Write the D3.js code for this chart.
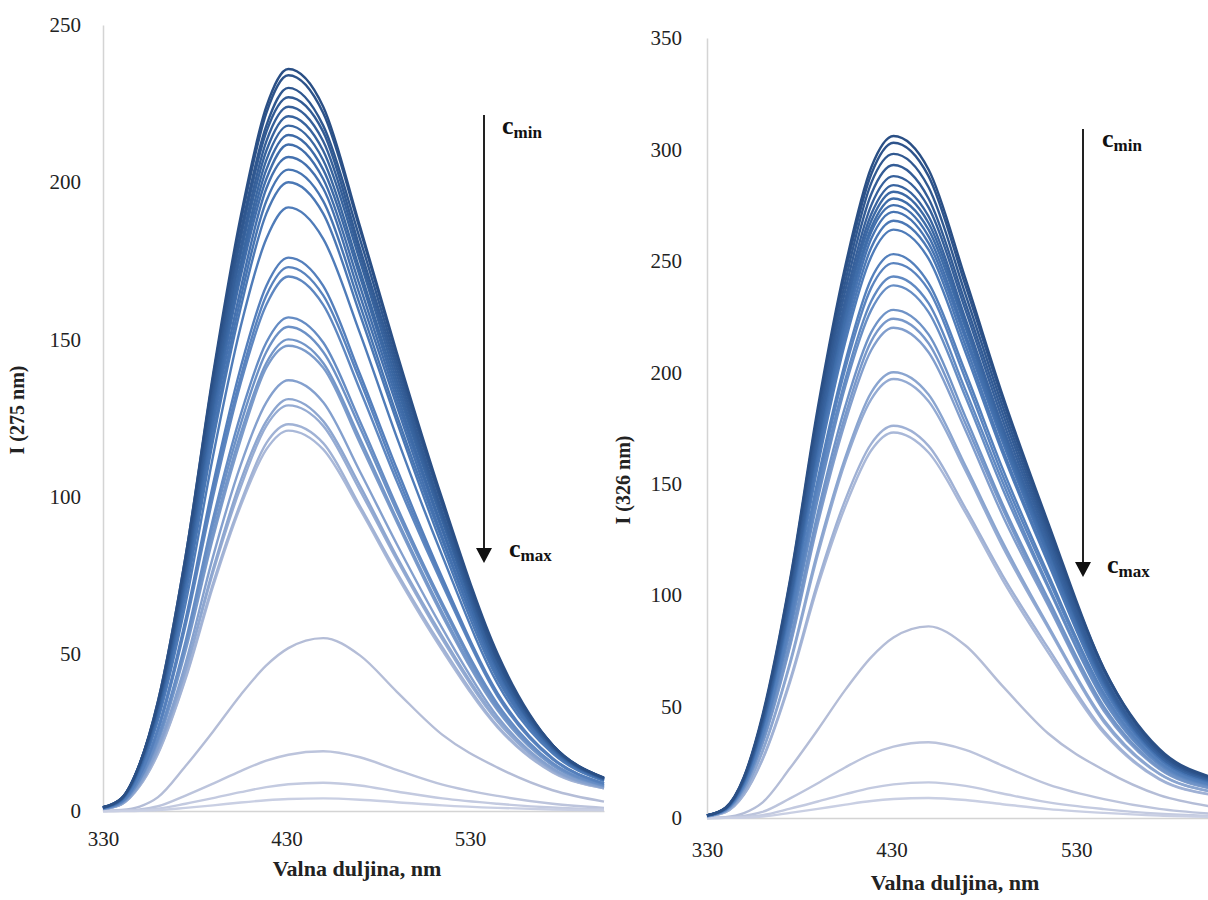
<!DOCTYPE html>
<html><head><meta charset="utf-8">
<script src="https://cdn.jsdelivr.net/npm/d3@7"></script>
<style>body{margin:0;background:#fff}svg{display:block}</style>
</head><body>
<script>
// wavelengths (nm) at which the spectra were read
const wavelengths = [330,340,350,360,375,390,405,419,431,450,470,490,515,545,575,603];
const xTicks = [330,430,530];
const leftYTicks = [0,50,100,150,200,250];
const rightYTicks = [0,50,100,150,200,250,300,350];

// Left panel, excitation 275 nm (darkest = c_min ... lightest = c_max)
const left275 = [
[1.2,4,15,35,81,139,189,224,236,224,186,146,99,50,21,10.6],
[1.2,4,15,35,81,138,187,222,234,222,185,145,98,49,21,10.5],
[1.2,3.9,15,34,79,136,184,218,230,218,182,143,97,48,21,10.5],
[1.1,3.9,15,34,78,134,182,216,227,216,179,141,95,48,20.5,10.4],
[1.1,3.8,14.6,34,77,132,179,213,224,213,177,139,94,47,20.5,10.3],
[1.1,3.8,14.4,33,76,130,177,210,221,210,175,137,93,46,20.3,10.3],
[1.1,3.7,14.2,33,75,129,174,207,218,207,172,135,92,46,20,10.2],
[1.1,3.7,14,32,74,127,172,204,215,204,170,133,90,45,20,10.1],
[1.1,3.6,13.8,32,73,125,170,201,212,201,167,131,89,45,19.8,10],
[1.0,3.5,13.5,31,72,123,166,198,208,198,164,129,87,44,19.5,10],
[1.0,3.5,13.3,31,70,120,163,194,204,194,161,126,86,43,19.2,9.9],
[1.0,3.4,13,30,69,118,160,190,200,190,158,124,84,42,19,9.8],
[1.0,3.3,12.5,29,66,113,154,182,192,182,152,119,81,40.5,18.3,9.5],
[0.9,3.0,11.4,26.4,61,104,141,167,176,167,139,109,74,37.5,16.8,8.8],
[0.9,2.9,11.2,26,60,102,138,164,173,164,137,107,73,37,16.6,8.7],
[0.9,2.9,11,25.5,59,100,136,161,170,161,134,105,72,36.5,16.4,8.6],
[0.8,2.7,10.2,23.6,54,93,126,149,157,149,124,97,66,34,15.3,8.2],
[0.8,2.6,10,23,53,91,123,146,154,146,122,95.5,65,33,15,8.1],
[0.8,2.6,9.8,22.5,52,88.5,120,142.5,150,142.5,118.5,93,63,32.5,14.7,8],
[0.8,2.5,9.6,22,51,87,118,141,148,141,117,92,62,32,14.5,7.9],
[0.7,2.3,8.9,20.5,47,81,110,130,137,130,108,85,58,30,13.6,7.6],
[0.7,2.2,8.5,19.7,45,77,105,124,131,124,103.5,81,55.5,29,13.2,7.4],
[0.7,2.2,8.4,19.4,44.5,76,103,122.5,129,122.5,102,80,54.5,28.5,13,7.4],
[0.6,2.1,8,18.5,42.5,72.5,98,117,123,117,97,76,52,27,12.5,7.2],
[0.6,2.1,7.9,18.2,42,71.5,97,115,121,115,96,75,51,26.6,12.3,7.2]
];
const left275Low = [
[0,0.3,1.4,4.4,14.3,25.3,36.9,46.3,51.8,55,49.5,38,24.2,13.8,6.6,3],
[0,0.1,0.5,1.5,4.9,8.7,12.7,16,17.9,19,17.1,13.1,8.4,4.8,2.3,1.0],
[0,0.05,0.2,0.7,2.3,4.1,6.0,7.6,8.5,9,8.1,6.2,4.0,2.3,1.1,0.5],
[0,0,0.1,0.3,1.0,1.8,2.7,3.4,3.8,4,3.6,2.8,1.8,1.0,0.5,0.2]
];

// Right panel, excitation 326 nm
const right326 = [
[1.2,4.6,18.4,46,107,184,248,292,306,291,242,190,132,67,31,18.4],
[1.2,4.5,18.2,45,106,182,245,289,303,288,239,188,130,67,30,18.2],
[1.2,4.5,17.9,45,104,179,241,285,298,283,235,185,128,66,30,17.9],
[1.2,4.4,17.6,44,103,176,237,280,293,278,231,182,126,64,29,17.6],
[1.2,4.3,17.3,43,101,173,233,275,288,274,228,179,124,63,29,17.3],
[1.1,4.3,17,43,99,170,230,271,284,270,224,176,122,62,28,17],
[1.1,4.2,16.9,42,98,169,228,268,281,267,222,174,121,62,28,16.9],
[1.1,4.2,16.7,42,97,167,225,265,278,264,220,172,120,61,28,16.7],
[1.1,4.1,16.5,41,96,165,223,263,275,261,217,171,118,60.5,27.5,16.5],
[1.1,4.1,16.3,41,95,163,220,260,272,258,215,169,117,60,27,16.3],
[1.1,4.0,16.1,40,94,161,217,256,268,255,212,166,115,59,27,16.1],
[1.1,4.0,15.8,40,92,158,214,252,264,251,209,164,114,58,26.4,15.8],
[1.0,3.8,15.2,38,89,152,205,242,253,240,200,157,109,56,25.3,15.2],
[1.0,3.7,14.9,37,87,149,202,238,249,237,197,154,107,55,24.9,14.9],
[1.0,3.6,14.6,36,85,146,197,232,243,231,192,151,104,53.5,24.3,14.6],
[1.0,3.6,14.3,36,84,143,194,228,239,227,189,148,103,52.6,23.9,14.3],
[0.9,3.4,13.7,34,80,137,185,218,228,217,180,141,98,50,22.8,13.7],
[0.9,3.4,13.4,34,78,134,181,214,224,213,177,139,96,49,22.4,13.4],
[0.9,3.3,13.2,33,77,132,178,210,220,209,174,136,95,48,22,13.2],
[0.8,3.0,12,30,70,120,162,191,200,190,158,124,86,44,20,12],
[0.8,3.0,11.8,29.6,69,118,160,188,197,187,156,122,85,43,19.7,11.8],
[0.7,2.6,10.6,26.4,62,106,143,168,176,167,139,109,76,39,17.6,10.6],
[0.7,2.6,10.4,26,61,104,140,165,173,164,137,107,74,38,17.3,10.4]
];
const right326Low = [
[0,0.4,2.2,6.9,22.4,39.6,57.6,72.2,81,86,77.4,59.3,37.8,21.5,10.3,5.2],
[0,0.2,0.9,2.7,8.8,15.6,22.8,28.6,32,34,30.6,23.5,15,8.5,4.1,1.9],
[0,0.1,0.4,1.3,4.2,7.4,10.7,13.5,15.1,16,14.4,11,7,4,1.9,0.9],
[0,0.05,0.2,0.7,2.3,4.1,6.0,7.6,8.5,9,8.1,6.2,4.0,2.3,1.1,0.5]
];

const svg = d3.select("body").append("svg").attr("width",1208).attr("height",900);
const serif = "'Liberation Serif','Times New Roman',serif";

function panel(cfg){
  const x = d3.scaleLinear().domain([330,603]).range(cfg.xr);
  const y = d3.scaleLinear().domain([0,cfg.yMax]).range(cfg.yr);
  const g = svg.append("g");
  const ya = g.append("g").attr("transform",`translate(${cfg.xr[0]},0)`)
    .call(d3.axisLeft(y).tickValues(cfg.yTicks).tickSize(0).tickSizeOuter(0).tickPadding(cfg.yPad));
  const xa = g.append("g").attr("transform",`translate(0,${cfg.yr[0]})`)
    .call(d3.axisBottom(x).tickValues(xTicks).tickSize(0).tickSizeOuter(0).tickPadding(cfg.xPad));
  [ya,xa].forEach(a=>{
    a.select(".domain").attr("stroke","#d4d4d4").attr("stroke-width",1.5);
    a.selectAll("text").attr("font-family",serif).attr("font-size",21).attr("fill","#222");
  });
  const line = d3.line().x((d,i)=>x(wavelengths[i])).y(d=>y(d)).curve(d3.curveMonotoneX);
  const lowCols = ["#b4bdd7","#bcc4dc","#c3cae0","#c9cfe3"];
  g.selectAll(".low").data(cfg.low).join("path")
    .attr("fill","none").attr("stroke",(d,i)=>lowCols[i]).attr("stroke-width",2.4)
    .attr("d",line);
  const n = cfg.series.length;
  const col = d3.interpolateRgbBasis(["#2a4f85","#3f6fae","#5d88c4","#a9b8d8"]);
  const ordered = cfg.series.map((s,i)=>({s,i})).reverse();
  g.selectAll(".up").data(ordered).join("path")
    .attr("fill","none").attr("stroke",d=>col(d.i/(n-1))).attr("stroke-width",2.4)
    .attr("d",d=>line(d.s));
  g.append("text").attr("x",cfg.xt[0]).attr("y",cfg.xt[1]).attr("text-anchor","middle")
    .attr("font-family",serif).attr("font-weight","bold").attr("font-size",22).attr("fill","#222")
    .text("Valna duljina, nm");
  g.append("text").attr("transform",`translate(${cfg.yt[0]},${cfg.yt[1]}) rotate(-90)`).attr("text-anchor","middle")
    .attr("font-family",serif).attr("font-weight","bold").attr("font-size",20).attr("fill","#222")
    .text(cfg.ytitle);
  const a = cfg.arrow;
  g.append("line").attr("x1",a.x).attr("x2",a.x).attr("y1",a.y1).attr("y2",a.y2-12)
    .attr("stroke","#222").attr("stroke-width",2);
  g.append("path").attr("d",`M${a.x-8},${a.y2-15}L${a.x+8},${a.y2-15}L${a.x},${a.y2}Z`).attr("fill","#111");
  const lab = (px,py,sub)=>{
    const t = g.append("text").attr("x",px).attr("y",py).attr("font-family",serif)
      .attr("font-weight","bold").attr("font-size",26).attr("fill","#111").text("c");
    t.append("tspan").attr("dy",4).attr("font-size",17).text(sub);
  };
  lab(a.minX,a.minY,"min");
  lab(a.maxX,a.maxY,"max");
}

panel({xr:[103,604], yr:[811,25], yMax:250, yTicks:leftYTicks, yPad:22, xPad:20,
  series:left275, low:left275Low, xt:[357,876], yt:[24,410], ytitle:"I (275 nm)",
  arrow:{x:484,y1:115,y2:563,minX:502,minY:134,maxX:509,maxY:557}});
panel({xr:[707,1211], yr:[818,38], yMax:350, yTicks:rightYTicks, yPad:25, xPad:24,
  series:right326, low:right326Low, xt:[955,890], yt:[630,480], ytitle:"I (326 nm)",
  arrow:{x:1083,y1:129,y2:577,minX:1102,minY:147,maxX:1107,maxY:573}});
</script>
</body></html>
